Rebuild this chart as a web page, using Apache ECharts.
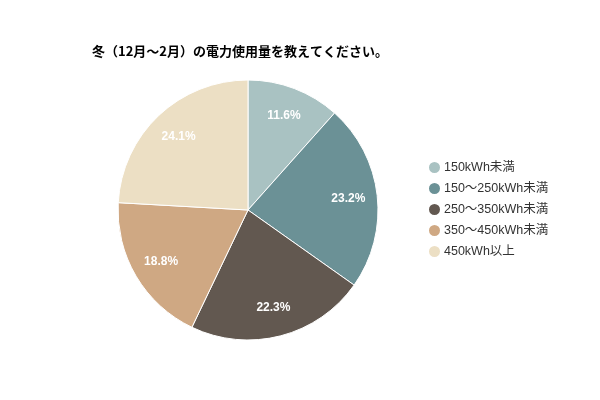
<!DOCTYPE html>
<html>
<head>
<meta charset="utf-8">
<script src="https://cdn.jsdelivr.net/npm/echarts@6/dist/echarts.min.js"></script>
<style>
  html, body { margin: 0; padding: 0; background: #fff; }
  #chart { width: 600px; height: 400px; }
</style>
</head>
<body>
<div id="chart"></div>
<script>
// 冬の電力使用量（%）
const categories = ['150kWh未満', '150～250kWh未満', '250～350kWh未満', '350～450kWh未満', '450kWh以上'];
const values = [11.6, 23.2, 22.3, 18.8, 24.1];
const colors = ['#a9c2c2', '#6b9196', '#625850', '#cfa883', '#ecdfc4'];

const pieData = categories.map((name, i) => ({ name: name, value: values[i] }));

const chart = echarts.init(document.getElementById('chart'));

chart.setOption({
    color: colors,
    title: {
        text: '冬（12月～2月）の電力使用量を教えてください。',
        left: 87,
        top: 40,
        textStyle: {
            fontFamily: '"Noto Sans CJK JP", sans-serif',
            fontSize: 13,
            fontWeight: 'bold',
            color: '#000'
        }
    },
    legend: {
        orient: 'vertical',
        left: 422,
        top: 155,
        icon: 'circle',
        itemWidth: 13,
        itemHeight: 13,
        itemGap: 6,
        data: categories,
        textStyle: {
            fontFamily: 'Arial, "Liberation Sans", "Noto Sans CJK JP", sans-serif',
            fontSize: 12.5,
            lineHeight: 13,
            color: '#333',
            padding: [0, 0, 0, -2]
        }
    },
    series: [
        {
            // 本体の円
            type: 'pie',
            center: [248, 210],
            radius: [0, 130],
            startAngle: 90,
            clockwise: true,
            silent: true,
            label: { show: false },
            labelLine: { show: false },
            itemStyle: { borderColor: '#fff', borderWidth: 1 },
            data: pieData
        },
        {
            // ラベル配置用の透明リング
            type: 'pie',
            center: [248, 210],
            radius: [66, 130],
            startAngle: 90,
            clockwise: true,
            silent: true,
            itemStyle: { color: 'rgba(0,0,0,0)' },
            labelLine: { show: false },
            label: {
                show: true,
                position: 'inside',
                formatter: p => p.value.toFixed(1) + '%',
                color: '#fff',
                fontSize: 12,
                fontWeight: 'bold',
                fontFamily: 'Arial, "Liberation Sans", sans-serif'
            },
            data: pieData
        }
    ]
});
</script>
</body>
</html>
